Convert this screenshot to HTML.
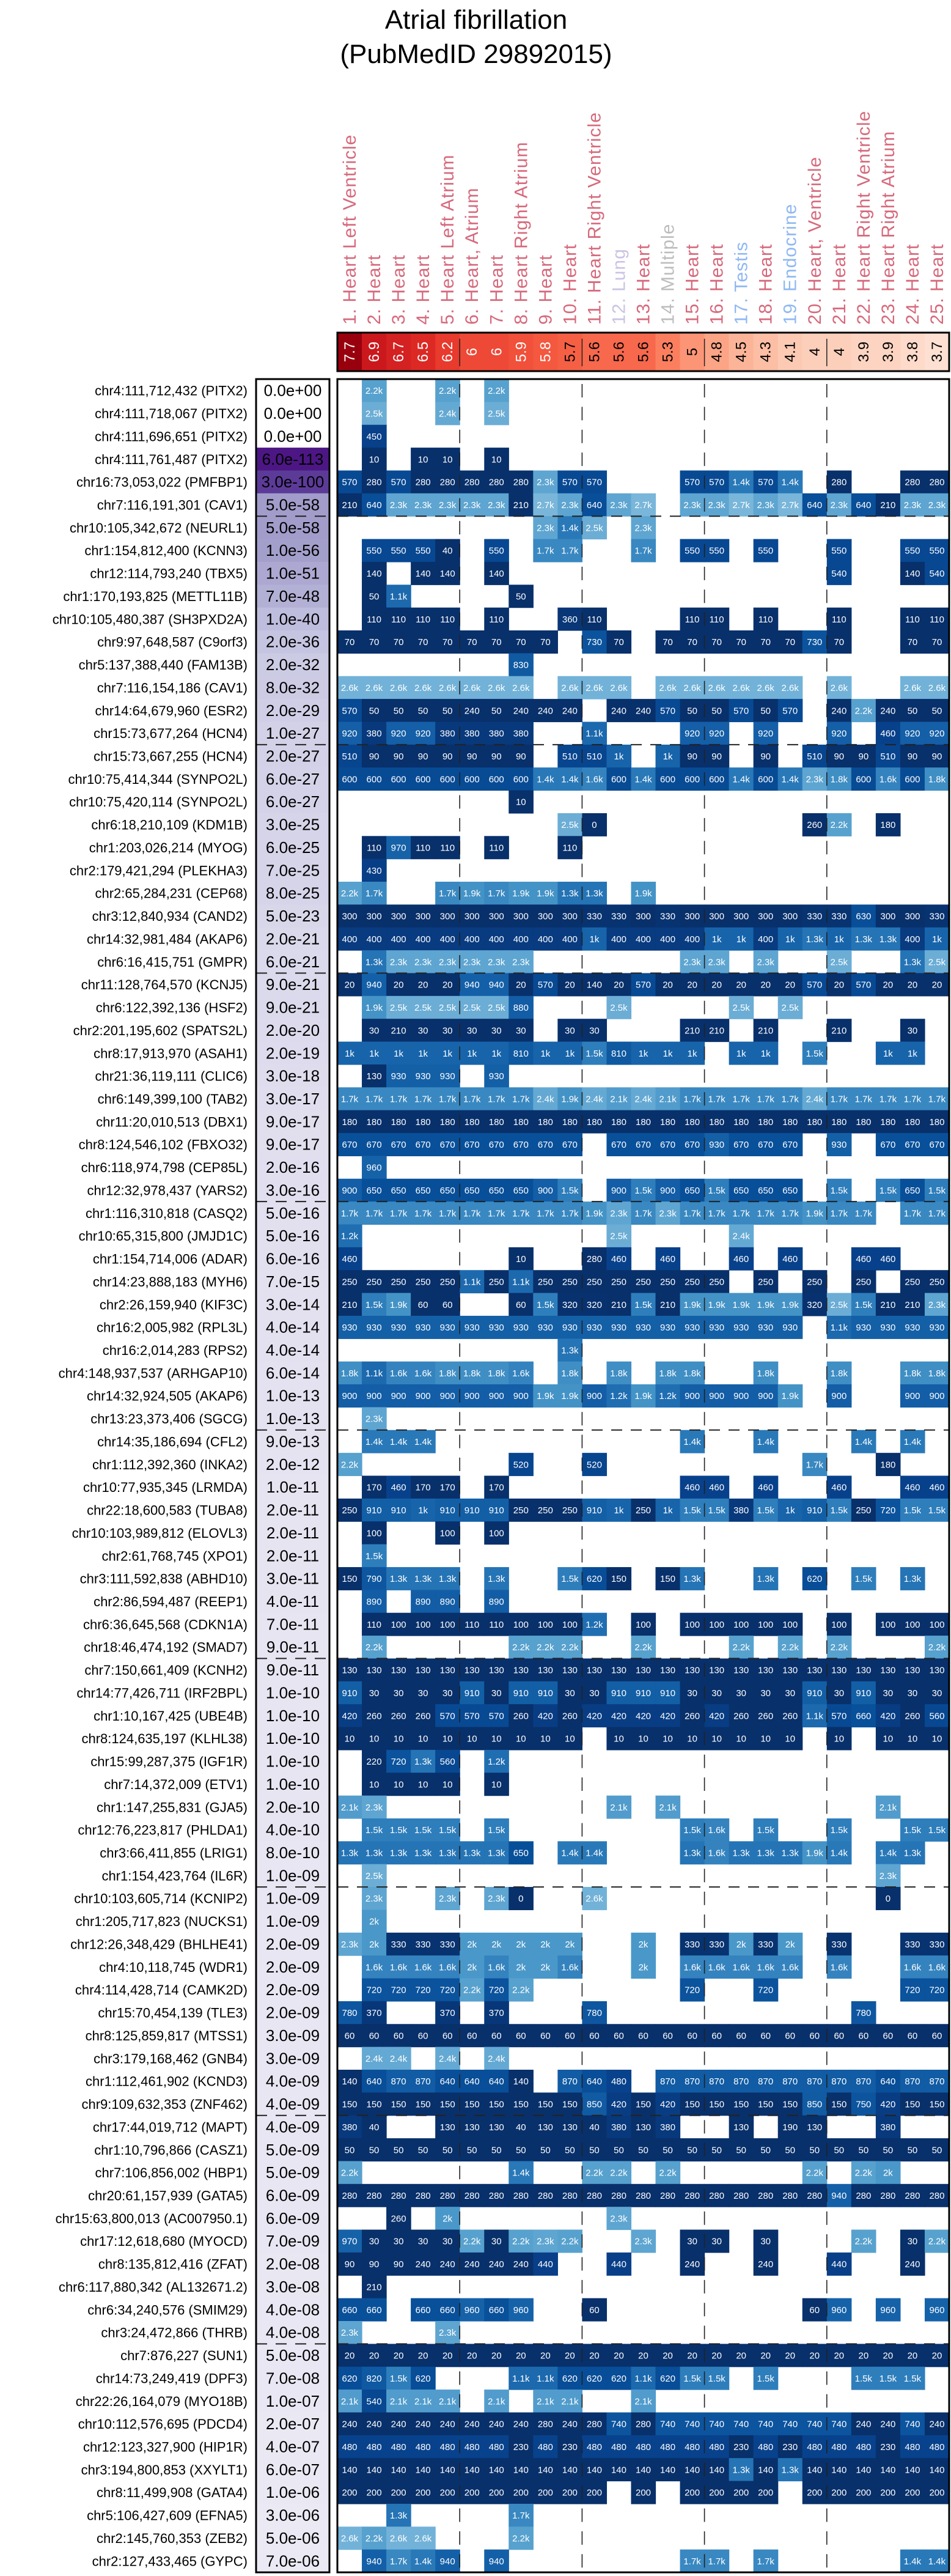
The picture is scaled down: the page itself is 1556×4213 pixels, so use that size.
<!DOCTYPE html>
<html><head><meta charset="utf-8"><title>Atrial fibrillation</title>
<style>
html,body{margin:0;padding:0;background:#fff;}
svg{display:block;font-family:"Liberation Sans",Arial,sans-serif;}
</style></head>
<body>
<svg id="chart" xmlns="http://www.w3.org/2000/svg" width="1556" height="4213" viewBox="0 0 1556 4213">
<text x="779" y="47" font-size="44" text-anchor="middle" fill="#000">Atrial fibrillation</text>
<text x="779" y="103" font-size="44" text-anchor="middle" fill="#000">(PubMedID 29892015)</text>
</svg>
<script>
// ---------- data ----------
const tissueLabels = ["1. Heart Left Ventricle","2. Heart","3. Heart","4. Heart","5. Heart Left Atrium","6. Heart, Atrium","7. Heart","8. Heart Right Atrium","9. Heart","10. Heart","11. Heart Right Ventricle","12. Lung","13. Heart","14. Multiple","15. Heart","16. Heart","17. Testis","18. Heart","19. Endocrine","20. Heart, Ventricle","21. Heart","22. Heart Right Ventricle","23. Heart Right Atrium","24. Heart","25. Heart"];
const tissueGroups = ["heart","heart","heart","heart","heart","heart","heart","heart","heart","heart","heart","lung","heart","multiple","heart","heart","testis","heart","endocrine","heart","heart","heart","heart","heart","heart"];
const tissueScores = [7.7,6.9,6.7,6.5,6.2,6,6,5.9,5.8,5.7,5.6,5.6,5.6,5.3,5,4.8,4.5,4.3,4.1,4,4,3.9,3.9,3.8,3.7];
const snpLabels = ["chr4:111,712,432 (PITX2)","chr4:111,718,067 (PITX2)","chr4:111,696,651 (PITX2)","chr4:111,761,487 (PITX2)","chr16:73,053,022 (PMFBP1)","chr7:116,191,301 (CAV1)","chr10:105,342,672 (NEURL1)","chr1:154,812,400 (KCNN3)","chr12:114,793,240 (TBX5)","chr1:170,193,825 (METTL11B)","chr10:105,480,387 (SH3PXD2A)","chr9:97,648,587 (C9orf3)","chr5:137,388,440 (FAM13B)","chr7:116,154,186 (CAV1)","chr14:64,679,960 (ESR2)","chr15:73,677,264 (HCN4)","chr15:73,667,255 (HCN4)","chr10:75,414,344 (SYNPO2L)","chr10:75,420,114 (SYNPO2L)","chr6:18,210,109 (KDM1B)","chr1:203,026,214 (MYOG)","chr2:179,421,294 (PLEKHA3)","chr2:65,284,231 (CEP68)","chr3:12,840,934 (CAND2)","chr14:32,981,484 (AKAP6)","chr6:16,415,751 (GMPR)","chr11:128,764,570 (KCNJ5)","chr6:122,392,136 (HSF2)","chr2:201,195,602 (SPATS2L)","chr8:17,913,970 (ASAH1)","chr21:36,119,111 (CLIC6)","chr6:149,399,100 (TAB2)","chr11:20,010,513 (DBX1)","chr8:124,546,102 (FBXO32)","chr6:118,974,798 (CEP85L)","chr12:32,978,437 (YARS2)","chr1:116,310,818 (CASQ2)","chr10:65,315,800 (JMJD1C)","chr1:154,714,006 (ADAR)","chr14:23,888,183 (MYH6)","chr2:26,159,940 (KIF3C)","chr16:2,005,982 (RPL3L)","chr16:2,014,283 (RPS2)","chr4:148,937,537 (ARHGAP10)","chr14:32,924,505 (AKAP6)","chr13:23,373,406 (SGCG)","chr14:35,186,694 (CFL2)","chr1:112,392,360 (INKA2)","chr10:77,935,345 (LRMDA)","chr22:18,600,583 (TUBA8)","chr10:103,989,812 (ELOVL3)","chr2:61,768,745 (XPO1)","chr3:111,592,838 (ABHD10)","chr2:86,594,487 (REEP1)","chr6:36,645,568 (CDKN1A)","chr18:46,474,192 (SMAD7)","chr7:150,661,409 (KCNH2)","chr14:77,426,711 (IRF2BPL)","chr1:10,167,425 (UBE4B)","chr8:124,635,197 (KLHL38)","chr15:99,287,375 (IGF1R)","chr7:14,372,009 (ETV1)","chr1:147,255,831 (GJA5)","chr12:76,223,817 (PHLDA1)","chr3:66,411,855 (LRIG1)","chr1:154,423,764 (IL6R)","chr10:103,605,714 (KCNIP2)","chr1:205,717,823 (NUCKS1)","chr12:26,348,429 (BHLHE41)","chr4:10,118,745 (WDR1)","chr4:114,428,714 (CAMK2D)","chr15:70,454,139 (TLE3)","chr8:125,859,817 (MTSS1)","chr3:179,168,462 (GNB4)","chr1:112,461,902 (KCND3)","chr9:109,632,353 (ZNF462)","chr17:44,019,712 (MAPT)","chr1:10,796,866 (CASZ1)","chr7:106,856,002 (HBP1)","chr20:61,157,939 (GATA5)","chr15:63,800,013 (AC007950.1)","chr17:12,618,680 (MYOCD)","chr8:135,812,416 (ZFAT)","chr6:117,880,342 (AL132671.2)","chr6:34,240,576 (SMIM29)","chr3:24,472,866 (THRB)","chr7:876,227 (SUN1)","chr14:73,249,419 (DPF3)","chr22:26,164,079 (MYO18B)","chr10:112,576,695 (PDCD4)","chr12:123,327,900 (HIP1R)","chr3:194,800,853 (XXYLT1)","chr8:11,499,908 (GATA4)","chr5:106,427,609 (EFNA5)","chr2:145,760,353 (ZEB2)","chr2:127,433,465 (GYPC)"];
const pValues = ["0.0e+00","0.0e+00","0.0e+00","6.0e-113","3.0e-100","5.0e-58","5.0e-58","1.0e-56","1.0e-51","7.0e-48","1.0e-40","2.0e-36","2.0e-32","8.0e-32","2.0e-29","1.0e-27","2.0e-27","6.0e-27","6.0e-27","3.0e-25","6.0e-25","7.0e-25","8.0e-25","5.0e-23","2.0e-21","6.0e-21","9.0e-21","9.0e-21","2.0e-20","2.0e-19","3.0e-18","3.0e-17","9.0e-17","9.0e-17","2.0e-16","3.0e-16","5.0e-16","5.0e-16","6.0e-16","7.0e-15","3.0e-14","4.0e-14","4.0e-14","6.0e-14","1.0e-13","1.0e-13","9.0e-13","2.0e-12","1.0e-11","2.0e-11","2.0e-11","2.0e-11","3.0e-11","4.0e-11","7.0e-11","9.0e-11","9.0e-11","1.0e-10","1.0e-10","1.0e-10","1.0e-10","1.0e-10","2.0e-10","4.0e-10","8.0e-10","1.0e-09","1.0e-09","1.0e-09","2.0e-09","2.0e-09","2.0e-09","2.0e-09","3.0e-09","3.0e-09","4.0e-09","4.0e-09","4.0e-09","5.0e-09","5.0e-09","6.0e-09","6.0e-09","7.0e-09","2.0e-08","3.0e-08","4.0e-08","4.0e-08","5.0e-08","7.0e-08","1.0e-07","2.0e-07","4.0e-07","6.0e-07","1.0e-06","3.0e-06","5.0e-06","7.0e-06"];
// cell values per row: "col:value" or "from-to:value"
const cellRows = [
"2:2.2k 5:2.2k 7:2.2k",
"2:2.5k 5:2.4k 7:2.5k",
"2:450",
"2:10 4:10 5:10 7:10",
"1:570 2:280 3:570 4-8:280 9:2.3k 10-11:570 15-16:570 17:1.4k 18:570 19:1.4k 21:280 24-25:280",
"1:210 2:640 3-7:2.3k 8:210 9:2.7k 10:2.3k 11:640 12:2.3k 13:2.7k 15-16:2.3k 17:2.7k 18:2.3k 19:2.7k 20:640 21:2.3k 22:640 23:210 24-25:2.3k",
"9:2.3k 10:1.4k 11:2.5k 13:2.3k",
"2-4:550 5:40 7:550 9-10:1.7k 13:1.7k 15-16:550 18:550 21:550 24-25:550",
"2:140 4-5:140 7:140 21:540 24:140 25:540",
"2:50 3:1.1k 8:50",
"2-5:110 7:110 10:360 11:110 15-16:110 18:110 21:110 24-25:110",
"1-9:70 11:730 12:70 14-19:70 20:730 21:70 24-25:70",
"8:830",
"1-8:2.6k 10-12:2.6k 14-19:2.6k 21:2.6k 24-25:2.6k",
"1:570 2-5:50 6:240 7:50 8-10:240 12-13:240 14:570 15-16:50 17:570 18:50 19:570 21:240 22:2.2k 23:240 24-25:50",
"1:920 2:380 3-4:920 5-8:380 11:1.1k 15-16:920 18:920 21:920 23:460 24-25:920",
"1:510 2-8:90 10-11:510 12:1k 14:1k 15-16:90 18:90 20:510 21-22:90 23:510 24-25:90",
"1-8:600 9-10:1.4k 11:1.6k 12:600 13:1.4k 14-16:600 17:1.4k 18:600 19:1.4k 20:2.3k 21:1.8k 22:600 23:1.6k 24:600 25:1.8k",
"8:10",
"10:2.5k 11:0 20:260 21:2.2k 23:180",
"2:110 3:970 4-5:110 7:110 10:110",
"2:430",
"1:2.2k 2:1.7k 5:1.7k 6:1.9k 7:1.7k 8-9:1.9k 10-11:1.3k 13:1.9k",
"1-10:300 11-12:330 13:300 14:330 15-19:300 20-21:330 22:630 23-24:300 25:330",
"1-10:400 11:1k 12-15:400 16-17:1k 18:400 19:1k 20:1.3k 21:1k 22-23:1.3k 24:400 25:1k",
"2:1.3k 3-8:2.3k 15-16:2.3k 18:2.3k 21:2.5k 24:1.3k 25:2.5k",
"1:20 2:940 3-5:20 6-7:940 8:20 9:570 10:20 11:140 12:20 13:570 14-19:20 20:570 21:20 22:570 23-25:20",
"2:1.9k 3-7:2.5k 8:880 12:2.5k 17:2.5k 19:2.5k",
"2:30 3:210 4-8:30 10-11:30 15-16:210 18:210 21:210 24:30",
"1-7:1k 8:810 9-10:1k 11:1.5k 12:810 13-15:1k 17-18:1k 20:1.5k 23-24:1k",
"2:130 3-5:930 7:930",
"1-8:1.7k 9:2.4k 10:1.9k 11:2.4k 12:2.1k 13:2.4k 14:2.1k 15-19:1.7k 20:2.4k 21-25:1.7k",
"1-25:180",
"1-10:670 12-15:670 16:930 17-19:670 21:930 23-25:670",
"2:960",
"1:900 2-8:650 9:900 10:1.5k 12:900 13:1.5k 14:900 15:650 16:1.5k 17-19:650 21:1.5k 23:1.5k 24:650 25:1.5k",
"1-10:1.7k 11:1.9k 12:2.3k 13:1.7k 14:2.3k 15-19:1.7k 20:1.9k 21-22:1.7k 24-25:1.7k",
"1:1.2k 12:2.5k 17:2.4k",
"1:460 8:10 11:280 12:460 14:460 17:460 19:460 22-23:460",
"1-5:250 6:1.1k 7:250 8:1.1k 9-16:250 18:250 20:250 22:250 24-25:250",
"1:210 2:1.5k 3:1.9k 4-5:60 8:60 9:1.5k 10-11:320 12:210 13:1.5k 14:210 15-19:1.9k 20:320 21:2.5k 22:1.5k 23-24:210 25:2.3k",
"1-19:930 21:1.1k 22-25:930",
"10:1.3k",
"1:1.8k 2:1.1k 3-4:1.6k 5-7:1.8k 8:1.6k 10:1.8k 12:1.8k 14-15:1.8k 18:1.8k 21:1.8k 24-25:1.8k",
"1-8:900 9-10:1.9k 11:900 12:1.2k 13:1.9k 14:1.2k 15-18:900 19:1.9k 21:900 24-25:900",
"2:2.3k",
"2-4:1.4k 15:1.4k 18:1.4k 22:1.4k 24:1.4k",
"1:2.2k 8:520 11:520 20:1.7k 23:180",
"2:170 3:460 4-5:170 7:170 15-16:460 18:460 21:460 24-25:460",
"1:250 2-3:910 4:1k 5-7:910 8-10:250 11:910 12:1k 13:250 14:1k 15-16:1.5k 17:380 18:1.5k 19:1k 20:910 21:1.5k 22:250 23:720 24-25:1.5k",
"2:100 5:100 7:100",
"2:1.5k",
"1:150 2:790 3-5:1.3k 7:1.3k 10:1.5k 11:620 12:150 14:150 15:1.3k 18:1.3k 20:620 22:1.5k 24:1.3k",
"2:890 4-5:890 7:890",
"2:110 3-5:100 6-7:110 8-10:100 11:1.2k 13:100 15-19:100 21:100 23-25:100",
"2:2.2k 8-10:2.2k 13:2.2k 17:2.2k 19:2.2k 21:2.2k 25:2.2k",
"1-25:130",
"1:910 2-5:30 6:910 7:30 8-9:910 10-11:30 12-14:910 15-19:30 20:910 21:30 22:910 23-25:30",
"1:420 2-4:260 5-7:570 8:260 9:420 10:260 11-14:420 15:260 16:420 17-19:260 20:1.1k 21:570 22:660 23:420 24:260 25:560",
"1-10:10 12-19:10 21:10 23-25:10",
"2:220 3:720 4:1.3k 5:560 7:1.2k",
"2-5:10 7:10",
"1:2.1k 2:2.3k 12:2.1k 14:2.1k 23:2.1k",
"2-5:1.5k 7:1.5k 15:1.5k 16:1.6k 18:1.5k 21:1.5k 24-25:1.5k",
"1-7:1.3k 8:650 10-11:1.4k 15:1.3k 16:1.6k 17-19:1.3k 20:1.9k 21:1.4k 23:1.4k 24:1.3k",
"2:2.5k 23:2.3k",
"2:2.3k 5:2.3k 7:2.3k 8:0 11:2.6k 23:0",
"2:2k",
"1:2.3k 2:2k 3-5:330 6-10:2k 13:2k 15-16:330 17:2k 18:330 19:2k 21:330 24-25:330",
"2-5:1.6k 6:2k 7:1.6k 8-9:2k 10:1.6k 13:2k 15-19:1.6k 21:1.6k 24-25:1.6k",
"2-5:720 6:2.2k 7:720 8:2.2k 15:720 18:720 24-25:720",
"1:780 2:370 5:370 7:370 11:780 22:780",
"1-25:60",
"2-3:2.4k 5:2.4k 7:2.4k",
"1:140 2:640 3-4:870 5-7:640 8:140 10:870 11:640 12:480 14-22:870 23:640 24-25:870",
"1-10:150 11:850 12:420 13:150 14:420 15-19:150 20:850 21:150 22:750 23:420 24-25:150",
"1:380 2:40 5-7:130 8:40 9-10:130 11:40 12:380 13:130 14:380 17:130 19:190 20:130 23:380",
"1-25:50",
"1:2.2k 8:1.4k 11-12:2.2k 14:2.2k 20:2.2k 22:2.2k 23:2k",
"1-20:280 21:940 22-25:280",
"3:260 5:2k 12:2.3k",
"1:970 2-5:30 6:2.2k 7:30 8:2.2k 9:2.3k 10:2.2k 13:2.3k 15-16:30 18:30 22:2.2k 24:30 25:2.2k",
"1-3:90 4-8:240 9:440 12:440 15:240 18:240 21:440 24:240",
"2:210",
"1-2:660 4-5:660 6:960 7:660 8:960 11:60 20:60 21:960 23:960 25:960",
"1:2.3k 5:2.3k",
"1-25:20",
"1:620 2:820 3:1.5k 4:620 8-9:1.1k 10-12:620 13:1.1k 14:620 15-16:1.5k 18:1.5k 22-24:1.5k",
"1:2.1k 2:540 3-5:2.1k 7:2.1k 9-10:2.1k 13:2.1k",
"1-8:240 9:280 10:240 11:280 12:740 13:280 14-21:740 22-23:240 24:740 25:240",
"1-7:480 8:230 9:480 10:230 11-16:480 17:230 18:480 19:230 20-22:480 23:230 24-25:480",
"1-16:140 17:1.3k 18:140 19:1.3k 20-25:140",
"1-11:200 13:200 15-18:200 20-25:200",
"3:1.3k 8:1.7k",
"1:2.6k 2:2.2k 3-4:2.6k 8:2.2k",
"2:940 3:1.7k 4:1.4k 5:940 7:940 15-16:1.7k 18:1.7k 24-25:1.4k"
];

// ---------- layout ----------
const NS = "http://www.w3.org/2000/svg";
const svg = document.getElementById("chart");
const hmLeft = 552, hmRight = 1553, hmTop = 620, hmBottom = 4207;
const nCols = tissueLabels.length, nRows = snpLabels.length;
const colW = (hmRight - hmLeft) / nCols;
const rowH = (hmBottom - hmTop) / nRows;
const xCol = c => hmLeft + c * colW;
const yRow = r => hmTop + r * rowH;
const pLeft = 419, pRight = 539;
const stripTop = 544, stripBottom = 607;

function el(tag, attrs, parent) {
  const e = document.createElementNS(NS, tag);
  for (const k in attrs) e.setAttribute(k, attrs[k]);
  (parent || svg).appendChild(e);
  return e;
}
function hex(h){return [parseInt(h.slice(1,3),16),parseInt(h.slice(3,5),16),parseInt(h.slice(5,7),16)];}
function interp(stops, v) {
  if (v <= stops[0][0]) return stops[0][1];
  for (let i = 1; i < stops.length; i++) {
    if (v <= stops[i][0]) {
      const t = (v - stops[i-1][0]) / (stops[i][0] - stops[i-1][0]);
      const a = hex(stops[i-1][1]), b = hex(stops[i][1]);
      return "rgb(" + a.map((x, j) => Math.round(x + (b[j] - x) * t)).join(",") + ")";
    }
  }
  return stops[stops.length-1][1];
}
const blueStops = [[0,"#08306b"],[300,"#08306b"],[450,"#08408a"],[650,"#084f99"],[1000,"#1764ab"],[1500,"#2e7ebc"],[2000,"#4a98c9"],[2400,"#64a9d3"],[2700,"#79b6da"]];
const redStops = [[3.7,"#fde0d2"],[4.2,"#fcc3aa"],[4.8,"#fca486"],[5.3,"#fb7f5f"],[5.8,"#f4583f"],[6.3,"#e53228"],[6.9,"#cb181d"],[7.7,"#99000d"]];
const purpleStops = [[0,"#f0eef6"],[15,"#e2e0ef"],[36,"#c6c5e1"],[58,"#a09bc9"],[100,"#5b3a97"],[113,"#4b1583"]];

function parseVal(s){ return s.endsWith("k") ? parseFloat(s) * 1000 : parseFloat(s); }
function parseRow(str){
  const out = new Array(nCols).fill("");
  str.trim().split(/\s+/).forEach(tok => {
    const [rng, v] = tok.split(":");
    const [a, b] = rng.split("-").map(Number);
    for (let c = a; c <= (b || a); c++) out[c-1] = v;
  });
  return out;
}
const groupColor = {heart:"#d6697c", lung:"#cbc3e3", multiple:"#bdbdbd", testis:"#8fb8f2", endocrine:"#8fb8f2"};

// ---------- column labels ----------
tissueLabels.forEach((lab, c) => {
  const cx = xCol(c) + colW/2 + 10;
  const t = el("text", {x: cx, y: 531, "font-size": 30, "letter-spacing": 1, fill: groupColor[tissueGroups[c]], transform: "rotate(-90 " + cx + " 531)"});
  
  
  t.textContent = lab;
});

// ---------- score strip ----------
tissueScores.forEach((s, c) => {
  const r = el("rect", {x: xCol(c), y: stripTop, width: colW + 0.6, height: stripBottom - stripTop, fill: interp(redStops, s)});
  
  
  const cx = xCol(c) + colW/2 + 8, cy = (stripTop + stripBottom)/2;
  const t = el("text", {x: cx, y: cy, "font-size": 24, "text-anchor": "middle", fill: s >= 5.8 ? "#fff" : "#000", transform: "rotate(-90 " + cx + " " + cy + ")"});
  
  
  t.textContent = String(s);
});
[5,10,15,20].forEach(c => {
  const l = el("line", {x1: xCol(c), x2: xCol(c), y1: stripTop + 10, y2: stripBottom - 8, stroke: "#222", "stroke-width": 1.5});
  
  
});
const sf = el("rect", {x: hmLeft, y: stripTop, width: hmRight - hmLeft, height: stripBottom - stripTop, fill: "none", stroke: "#000", "stroke-width": 3});



// ---------- rows ----------
snpLabels.forEach((lab, r) => {
  const y0 = yRow(r), cy = y0 + rowH/2;
  const t = el("text", {x: 405, y: cy + 8, "font-size": 22, "text-anchor": "end", fill: "#000"});
  
  
  t.textContent = lab;

  const p = pValues[r];
  const mant = parseFloat(p.split("e")[0]), ex = parseInt(p.split("e")[1]);
  const nl = mant === 0 ? -1 : -(Math.log10(mant) + ex);
  const pr = el("rect", {x: pLeft, y: y0, width: pRight - pLeft, height: rowH + 0.6, fill: nl < 0 ? "#ffffff" : interp(purpleStops, nl)});
  
  
  const pt = el("text", {x: (pLeft + pRight)/2, y: cy + 9, "font-size": 26, "text-anchor": "middle", fill: "#000"});
  
  
  pt.textContent = p;

  const vals = parseRow(cellRows[r]);
  vals.forEach((v, c) => {
    if (v === "") return;
    const rc = el("rect", {x: xCol(c), y: y0, width: colW + 0.6, height: rowH + 0.6, fill: interp(blueStops, parseVal(v))});
    
    
    const ct = el("text", {x: xCol(c) + colW/2, y: cy + 5.5, "font-size": 15, "text-anchor": "middle", fill: "#fff"});
    
    
    ct.textContent = v;
  });
});

// ---------- dividers ----------
[5,10,15,20].forEach(c => {
  const l = el("line", {x1: xCol(c), x2: xCol(c), y1: hmTop, y2: hmBottom, stroke: "#222", "stroke-width": 1.6, "stroke-dasharray": "22 " + (rowH - 22).toFixed(2), "stroke-dashoffset": -8});
  
  
});
for (let r = 6; r < nRows; r += 10) {
  const y = yRow(r);
  const l1 = el("line", {x1: pLeft, x2: pRight, y1: y, y2: y, stroke: "#222", "stroke-width": 2, "stroke-dasharray": "18 14"});
  
  
  const l2 = el("line", {x1: hmLeft, x2: hmRight, y1: y, y2: y, stroke: "#222", "stroke-width": 2, "stroke-dasharray": "18 14"});
  
  
}

// ---------- frames ----------
const pf = el("rect", {x: pLeft, y: hmTop, width: pRight - pLeft, height: hmBottom - hmTop, fill: "none", stroke: "#000", "stroke-width": 3});


const hf = el("rect", {x: hmLeft, y: hmTop, width: hmRight - hmLeft, height: hmBottom - hmTop, fill: "none", stroke: "#000", "stroke-width": 3});


</script>
</body></html>
